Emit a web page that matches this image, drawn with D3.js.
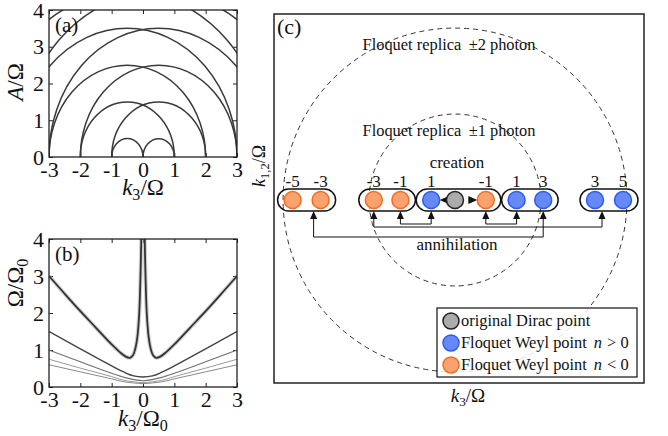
<!DOCTYPE html>
<html><head><meta charset="utf-8">
<script src="https://cdn.jsdelivr.net/npm/d3@7"></script>
<style>
body{margin:0;background:#fff}
svg text{font-family:"Liberation Serif","DejaVu Serif",serif;fill:#111}
</style></head><body>
<svg id="fig" width="668" height="436"></svg>
<script>
// ---- panel (a): replica arcs (centre, radius in units of Omega)
const arcCentres=[-0.5,0.5];
const arcRadii=[0.5,1.5,2.5,3.5,4.5];
const kTicks=[-3,-2,-1,0,1,2,3];
const vTicks=[0,1,2,3,4];

// ---- panel (b): resonance curves
const bTopLeft=[[-3,3],[-2.5,2.52],[-2,2.05],[-1.5,1.6],[-1,1.15],[-0.75,0.95],[-0.55,0.82],[-0.42,0.79],[-0.32,0.86],[-0.25,1.02],[-0.18,1.35],[-0.12,2],[-0.08,3],[-0.055,4]];
const bTopRight=[[0.055,4],[0.08,3],[0.12,2],[0.18,1.35],[0.25,1.02],[0.32,0.86],[0.42,0.79],[0.55,0.82],[0.75,0.95],[1,1.15],[1.5,1.6],[2,2.05],[2.5,2.52],[3,3]];
const bLine2=[[-3,1.5],[-2,1.03],[-1,0.57],[-0.6,0.4],[-0.3,0.3],[0,0.27],[0.3,0.3],[0.6,0.4],[1,0.57],[2,1.03],[3,1.5]];
const bLine3=[[-3,1],[-2,0.68],[-1,0.37],[-0.6,0.26],[-0.3,0.2],[0,0.17],[0.3,0.2],[0.6,0.26],[1,0.37],[2,0.68],[3,1]];
const bLine4=[[-3,0.75],[-2,0.51],[-1,0.28],[-0.6,0.18],[-0.3,0.14],[0,0.12],[0.3,0.14],[0.6,0.18],[1,0.28],[2,0.51],[3,0.75]];
const bLine5=[[-3,0.6],[-2,0.41],[-1,0.22],[-0.6,0.14],[-0.3,0.11],[0,0.09],[0.3,0.11],[0.6,0.14],[1,0.22],[2,0.41],[3,0.6]];

// ---- panel (c): schematic
const dotK=[-5.8,-4.8,-2.9,-1.95,-0.85,0,1.1,2.2,3.15,5,6];
const dotLabel=['-5','-3','-3','-1','1','','-1','1','3','3','5'];
const dotType=['neg','neg','neg','neg','pos','dirac','neg','pos','pos','pos','pos'];
const pills=[[0,1],[2,3],[4,6],[7,8],[9,10]];
const links=[[-1.95,-0.85,0],[1.1,2.2,0],[-2.9,5.25,1],[-5.05,3.15,2]];
const ringRadii=[3.07,6.14];
const ringText=['Floquet replica \u2009\u00b11 photon','Floquet replica \u2009\u00b12 photon'];
const legendTypes=['dirac','pos','neg'];
const legendText=['original Dirac point','Floquet Weyl point','Floquet Weyl point'];
const legendMath=['','> 0','< 0'];

const fill={dirac:'#ababab',pos:'#6689f7',neg:'#f9a26f'};
const edge={dirac:'#222',pos:'#2a5cf0',neg:'#f26d22'};

const svg=d3.select('#fig');

function mathText(g,x,y,parts,size,rot){
  let t=g.append('text').attr('font-size',size).attr('text-anchor','middle');
  if(rot) t.attr('transform',`translate(${x},${y}) rotate(-90)`);
  else t.attr('x',x).attr('y',y);
  let shifted=0;
  parts.forEach(p=>{
    let ts=t.append('tspan').text(p[0]);
    if(p[1].includes('i')) ts.attr('font-style','italic');
    if(p[1].includes('s')){ ts.attr('font-size',size*0.7).attr('dy',size*0.22); shifted=size*0.22; }
    else if(shifted){ ts.attr('dy',-shifted); shifted=0; }
  });
  return t;
}

function panel(x,y,tag,id){
  let g=svg.append('g');
  let [x0,x1]=x.range(), [y0,y1]=y.range();
  g.append('clipPath').attr('id',id).append('rect')
    .attr('x',x0).attr('y',y1).attr('width',x1-x0).attr('height',y0-y1);
  let style=a=>{
    a.attr('font-family',null).attr('font-size',22);
    a.select('.domain').remove();
    a.selectAll('line').attr('stroke','#222');
  };
  g.append('g').attr('transform',`translate(0,${y0})`)
    .call(d3.axisBottom(x).tickValues(kTicks).tickSize(-4).tickPadding(4).tickFormat(d=>String(d))).call(style);
  g.append('g').attr('transform',`translate(0,${y1})`)
    .call(d3.axisTop(x).tickValues(kTicks).tickSize(-4).tickFormat('')).call(style);
  g.append('g').attr('transform',`translate(${x0},0)`)
    .call(d3.axisLeft(y).tickValues(vTicks).tickSize(-4).tickPadding(5).tickFormat(d=>String(d))).call(style);
  g.append('g').attr('transform',`translate(${x1},0)`)
    .call(d3.axisRight(y).tickValues(vTicks).tickSize(-4).tickFormat('')).call(style);
  let plot=g.append('g').attr('clip-path',`url(#${id})`);
  g.append('rect').attr('x',x0).attr('y',y1).attr('width',x1-x0).attr('height',y0-y1)
    .attr('fill','none').attr('stroke','#222').attr('stroke-width',1.3);
  g.append('text').attr('x',x0+6).attr('y',y1+22).attr('font-size',21).text(tag);
  return plot;
}

// ---------- (a)
const xA=d3.scaleLinear().domain([-3,3]).range([49,237]);
const yA=d3.scaleLinear().domain([0,4]).range([157,10]);
const plotA=panel(xA,yA,'(a)','clipA');
arcCentres.forEach(c=>arcRadii.forEach(r=>{
  let rx=xA(r)-xA(0), ry=yA(0)-yA(r);
  plotA.append('path')
    .attr('d',`M${xA(c-r)},${yA(0)} A${rx},${ry} 0 0 1 ${xA(c+r)},${yA(0)}`)
    .attr('fill','none').attr('stroke','#3a3a3a').attr('stroke-width',1.5);
}));
mathText(svg,23,82,[['A','i'],['/\u03a9','']],23,true);
mathText(svg,143,195,[['k','i'],['3','s'],['/\u03a9','']],23,false);

// ---------- (b)
const xB=d3.scaleLinear().domain([-3,3]).range([49,237]);
const yB=d3.scaleLinear().domain([0,4]).range([387,239]);
const plotB=panel(xB,yB,'(b)','clipB');
const lineB=d3.line().x(d=>xB(d[0])).y(d=>yB(d[1])).curve(d3.curveMonotoneX);
const lineV=d3.line().x(d=>xB(d[0])).y(d=>yB(d[1])).curve(d3.curveCatmullRom.alpha(0.5));
[[bLine5,'#8a8a8a',1],[bLine4,'#9a9a9a',1],[bLine3,'#707070',1.1],[bLine2,'#444',1.4]].forEach(s=>{
  plotB.append('path').attr('d',lineB(s[0])).attr('fill','none').attr('stroke',s[1]).attr('stroke-width',s[2]);
});
[bTopLeft,bTopRight].forEach(s=>{
  plotB.append('path').attr('d',lineV(s)).attr('fill','none').attr('stroke','#aaa').attr('stroke-width',4).attr('opacity',0.55);
  plotB.append('path').attr('d',lineV(s)).attr('fill','none').attr('stroke','#333').attr('stroke-width',1.8);
});
mathText(svg,23,283,[['\u03a9/\u03a9',''],['0','s']],23,true);
mathText(svg,143,426,[['k','i'],['3','s'],['/\u03a9',''],['0','s']],23,false);

// ---------- (c)
const gc=svg.append('g');
gc.append('rect').attr('x',274).attr('y',14).attr('width',370).attr('height',369)
  .attr('fill','none').attr('stroke','#222').attr('stroke-width',1.5);
gc.append('text').attr('x',277).attr('y',34).attr('font-size',22).text('(c)');
const unit=28, cx0=455, cy0=200;
const sx=d3.scaleLinear().domain([-6,6]).range([cx0-6*unit,cx0+6*unit]);
const sy=d3.scaleLinear().domain([-1,1]).range([cy0+unit,cy0-unit]);

ringRadii.forEach((r,i)=>{
  gc.append('ellipse').attr('cx',sx(0)).attr('cy',sy(0))
    .attr('rx',sx(r)-sx(0)).attr('ry',sy(0)-sy(r))
    .attr('fill','none').attr('stroke','#333').attr('stroke-width',1).attr('stroke-dasharray','5,4');
  gc.append('text').attr('x',sx(0)-6).attr('y',sy(r)+21.5).attr('text-anchor','middle')
    .attr('font-size',16.4).text(ringText[i]);
});
gc.append('text').attr('x',sx(0)+2).attr('y',168).attr('text-anchor','middle').attr('font-size',17).text('creation');

pills.forEach(p=>{
  let xa=sx(dotK[p[0]])-15, xb=sx(dotK[p[1]])+15;
  gc.append('rect').attr('x',xa).attr('y',cy0-11).attr('width',xb-xa).attr('height',22)
    .attr('rx',11).attr('fill','none').attr('stroke','#111').attr('stroke-width',1.5);
});

// annihilation links
const levelY=[24,27,37], tipY=cy0+11;
function upArrow(x){
  gc.append('path').attr('d',`M${x},${tipY} l-3.5,8 l7,0 z`).attr('fill','#111');
}
links.forEach(l=>{
  let xa=sx(l[0]), xb=sx(l[1]), ly=cy0+levelY[l[2]];
  gc.append('path').attr('d',`M${xa},${tipY+6} V${ly} H${xb} V${tipY+6}`)
    .attr('fill','none').attr('stroke','#111').attr('stroke-width',1);
  upArrow(xa); upArrow(xb);
});
gc.append('text').attr('x',sx(0)+2).attr('y',250).attr('text-anchor','middle').attr('font-size',17).text('annihilation');

// creation arrows
const lt=sx(dotK[4])+8.5, rt=sx(dotK[6])-8.5;
gc.append('path').attr('d',`M${lt},${cy0} l9,-4 l0,8 z`).attr('fill','#111');
gc.append('path').attr('d',`M${rt},${cy0} l-9,-4 l0,8 z`).attr('fill','#111');

gc.selectAll('circle.dot').data(dotK).join('circle').attr('class','dot')
  .attr('cx',d=>sx(d)).attr('cy',cy0).attr('r',8.5)
  .attr('fill',(d,i)=>fill[dotType[i]]).attr('stroke',(d,i)=>edge[dotType[i]]).attr('stroke-width',1.5);
gc.selectAll('text.lab').data(dotK).join('text').attr('class','lab')
  .attr('x',d=>sx(d)).attr('y',cy0-13).attr('text-anchor','middle').attr('font-size',17)
  .text((d,i)=>dotLabel[i]);

mathText(svg,265,166,[['k','i'],['1,2','s'],['/\u03a9','']],18,true);
mathText(svg,468,402,[['k','i'],['3','s'],['/\u03a9','']],19,false);

// legend
const lg=gc.append('g');
lg.append('rect').attr('x',437).attr('y',308).attr('width',200).attr('height',69)
  .attr('fill','#fff').attr('fill-opacity',0.85).attr('stroke','#111').attr('stroke-width',1.2);
legendTypes.forEach((t,i)=>{
  let yy=321+i*22;
  lg.append('circle').attr('cx',451).attr('cy',yy).attr('r',8)
    .attr('fill',fill[t]).attr('stroke',edge[t]).attr('stroke-width',1.5);
  let tx=lg.append('text').attr('x',461).attr('y',yy+5).attr('font-size',16.4);
  tx.append('tspan').text(legendText[i]);
  if(legendMath[i]){
    tx.append('tspan').attr('dx',7).attr('font-style','italic').text('n');
    tx.append('tspan').attr('dx',5).text(legendMath[i]);
  }
});
</script>
</body></html>
